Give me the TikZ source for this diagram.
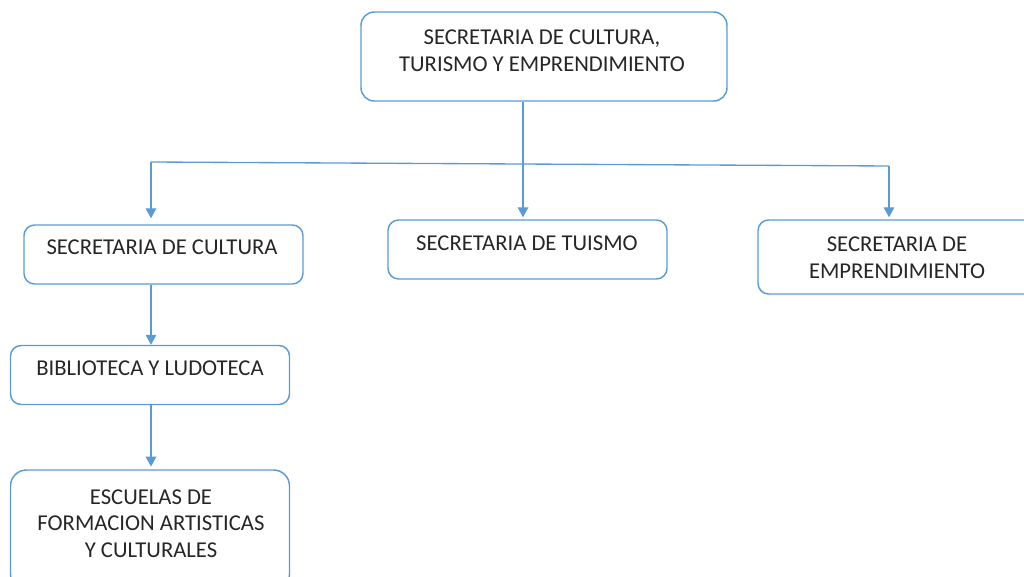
\documentclass[tikz,border=0pt]{standalone}
\usepackage{fontspec}
\setmainfont{Carlito}
\usetikzlibrary{arrows.meta}
\definecolor{OrgBlue}{RGB}{91,155,213}

\tikzset{
  orgbox/.style={draw=OrgBlue, line width=1.1pt, rounded corners=8pt, minimum width=209.25pt},
  orgtext/.style={align=center, font=\fontsize{17}{20}\selectfont, text=black!85},
  link/.style={draw=OrgBlue, line width=1pt},
}

\begin{document}
\begin{tikzpicture}[x=0.75pt, y=-0.75pt, >={Triangle[width=8pt,length=7.5pt]}]
\useasboundingbox (0,0) rectangle (1024,577);
\clip (0,0) rectangle (1024,577);
% boxes
\node[orgbox, minimum width=274.5pt, minimum height=66.75pt, rounded corners=10pt] (sec) at (544,56.5) {};
\node[orgbox, minimum height=44.25pt] (cult) at (163.5,254.5) {};
\node[orgbox, minimum height=44.25pt] (tur) at (527.5,249.5) {};
\node[orgbox, minimum height=55.5pt] (emp) at (897.5,257) {};
\node[orgbox, minimum height=44.25pt] (bib) at (150,375) {};
\node[orgbox, minimum height=90pt, rounded corners=12pt] (esc) at (150,530) {};
% labels
\node[orgtext] (sec-t) at (542,51) {SECRETARIA DE CULTURA,\\TURISMO Y EMPRENDIMIENTO};
\node[orgtext] (cult-t) at (162,247) {SECRETARIA DE CULTURA};
\node[orgtext] (tur-t) at (527,243.5) {SECRETARIA DE TUISMO};
\node[orgtext] (emp-t) at (897,257.5) {SECRETARIA DE\\EMPRENDIMIENTO};
\node[orgtext] (bib-t) at (150,368.5) {BIBLIOTECA Y LUDOTECA};
\node[orgtext] (esc-t) at (151,523.5) {ESCUELAS DE\\FORMACION ARTISTICAS\\Y CULTURALES};
% connectors
\coordinate (busL) at (151,162);
\coordinate (busM) at (523,164);
\coordinate (busR) at (889,166);
\draw[link] (sec.south -| busM) -- (busM);
\draw[link] (busL) -- (busR);
\draw[link,->] (busL) -- ([yshift=4.5pt]cult.north -| busL);
\draw[link,->] (busM) -- ([yshift=1.5pt]tur.north -| busM);
\draw[link,->] (busR) -- ([yshift=1.5pt]emp.north -| busR);
\draw[link,->] (cult.south -| busL) -- (bib.north -| busL);
\draw[link,->] (bib.south -| busL) -- ([yshift=2pt]esc.north -| busL);
\end{tikzpicture}
\end{document}
